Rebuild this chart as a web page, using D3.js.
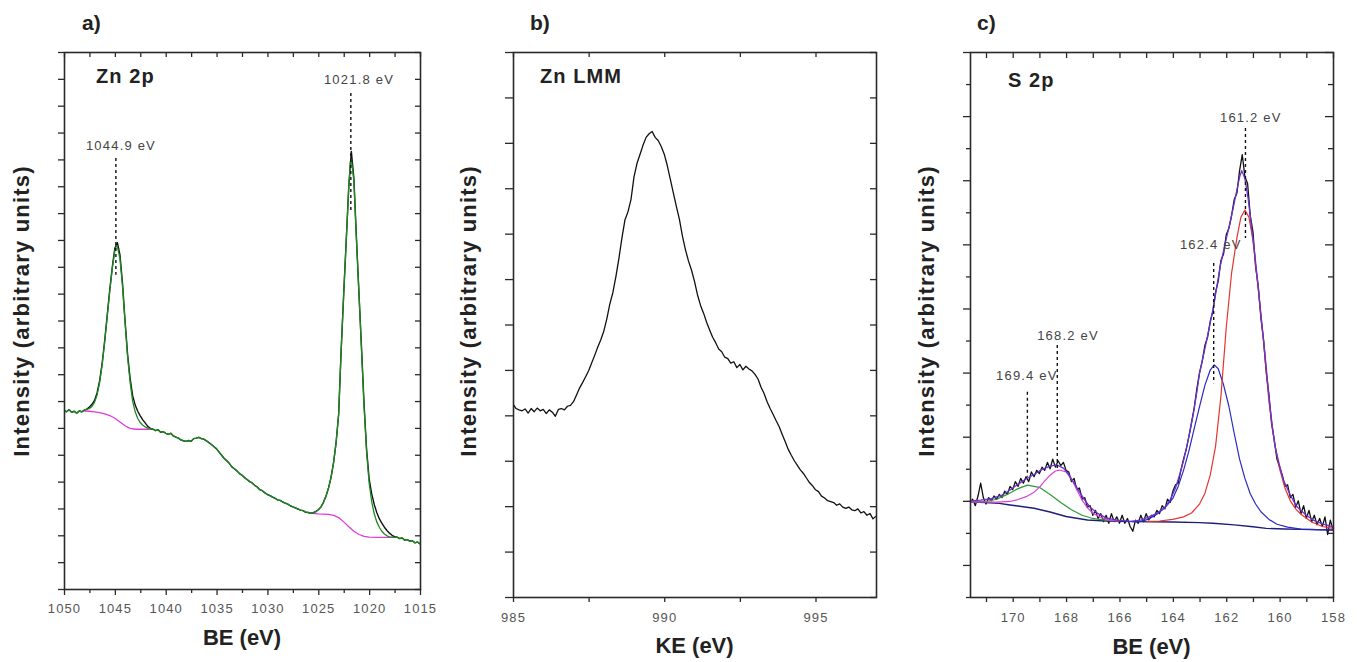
<!DOCTYPE html>
<html><head><meta charset="utf-8">
<script src="https://cdn.jsdelivr.net/npm/d3@7"></script>
<style>
body{margin:0;background:#fff;}
svg{display:block;}
text{font-family:"Liberation Sans", Arial, Helvetica, sans-serif;}
</style>
</head><body>
<svg id="chart" width="1357" height="662"></svg>
<script>
// ---------------- DATA ----------------
// Panel a) Zn 2p  (BE from 1050 down to 1015, step 0.25 eV)
const zn2pStart = 1050, zn2pStep = -0.25;
const zn2pIntensity = [
  6.65, 6.60, 6.68, 6.58,   6.62, 6.55, 6.63, 6.60,   6.66, 6.70, 6.78, 6.88,
  7.02, 7.30, 7.75, 8.40,   9.25, 10.20, 11.15, 12.00, 12.70, 12.90, 12.45, 11.40,
  10.00, 8.75, 7.85, 7.20,  6.85, 6.62, 6.45, 6.30,   6.18, 6.05, 5.98, 5.95,
  5.90, 5.93, 5.84, 5.86,   5.80, 5.76, 5.80, 5.70,   5.66, 5.62, 5.55, 5.52,
  5.50, 5.53, 5.50, 5.60,   5.62, 5.65, 5.60, 5.58,   5.52, 5.45, 5.38, 5.30,
  5.22, 5.10, 4.98, 4.86,   4.78, 4.68, 4.55, 4.48,   4.40, 4.30, 4.24, 4.15,
  4.08, 4.00, 3.95, 3.86,   3.80, 3.70, 3.66, 3.58,   3.52, 3.48, 3.42, 3.38,
  3.32, 3.30, 3.24, 3.20,   3.16, 3.10, 3.06, 3.02,   2.98, 2.94, 2.92, 2.86,
  2.85, 2.82, 2.84, 2.88,   2.95, 3.05, 3.22, 3.45,   3.75, 4.15, 4.70, 5.45,
  6.50, 8.90, 11.00, 13.00, 15.00, 16.30, 15.30, 13.10, 11.00, 9.00, 6.90, 5.20,
  4.10, 3.55, 3.15, 2.85,   2.62, 2.45, 2.30, 2.18,   2.08, 2.00, 1.95, 1.93,
  1.88, 1.90, 1.82, 1.84,   1.78, 1.80, 1.72, 1.75,   1.68
];
const zn2pFit1 = [[1047.5,6.72],[1047.25,6.8],[1047,6.95],[1046.75,7.22],[1046.5,7.68],[1046.25,8.35],[1046,9.2],[1045.75,10.15],[1045.5,11.1],[1045.25,11.95],[1045,12.6],[1044.85,12.78],[1044.75,12.75],[1044.5,12.3],[1044.25,11.3],[1044,9.95],[1043.75,8.65],[1043.5,7.7],[1043.25,7.0],[1043,6.6],[1042.75,6.35],[1042.5,6.2],[1042.25,6.1],[1042,6.03],[1041.75,5.99],[1041.5,5.97],[1041.25,5.95]];
const zn2pFit2 = [[1025.75,2.82],[1025.5,2.84],[1025.25,2.88],[1025,2.95],[1024.75,3.05],[1024.5,3.22],[1024.25,3.45],[1024,3.75],[1023.75,4.15],[1023.5,4.7],[1023.25,5.45],[1023,6.5],[1022.75,8.9],[1022.5,11.0],[1022.25,13.0],[1022,15.0],[1021.85,15.9],[1021.75,16.0],[1021.5,15.2],[1021.25,13.0],[1021,11.0],[1020.75,8.9],[1020.5,6.8],[1020.25,5.1],[1020,3.95],[1019.75,3.25],[1019.5,2.8],[1019.25,2.5],[1019,2.3],[1018.75,2.15],[1018.5,2.05],[1018.25,1.98],[1018,1.94],[1017.75,1.93],[1017.5,1.92]];
const zn2pBg1 = [[1048,6.63],[1047.5,6.62],[1047,6.6],[1046.5,6.57],[1046,6.52],[1045.5,6.46],[1045,6.36],[1044.5,6.22],[1044,6.08],[1043.5,5.98],[1043,5.95],[1042,5.95],[1041.3,5.95]];
const zn2pBg2 = [[1025.6,2.82],[1025,2.8],[1024.5,2.79],[1024,2.78],[1023.5,2.74],[1023,2.66],[1022.5,2.5],[1022,2.32],[1021.5,2.15],[1021,2.03],[1020.5,1.96],[1020,1.93],[1019,1.92],[1018,1.92],[1017.6,1.92]];
const zn2pAnnot = [
  {label:"1044.9 eV", e:1044.9, top:16.05, bottom:11.7, labelE:1044.4, labelU:16.5},
  {label:"1021.8 eV", e:1021.8, top:18.47, bottom:14.04, labelE:1021.0, labelU:18.96}
];
const aXLabels = [1050,1045,1040,1035,1030,1025,1020,1015];
const aXMinor = [1047.5,1042.5,1037.5,1032.5,1027.5,1022.5,1017.5];
const aYMajor = [0,2,4,6,8,10,12,14,16,18,20];
const aYMinor = [1,3,5,7,9,11,13,15,17,19];

// Panel b) Zn LMM  (KE from 985 to 997, step 0.1 eV)
const lmmStart = 985, lmmStep = 0.1;
const lmmIntensity = [
  4.25, 4.15, 4.12, 4.10, 4.14, 4.05, 4.15, 4.08, 4.16, 4.10,
  4.13, 4.04, 4.12, 4.07, 3.98, 4.13, 4.15, 4.12, 4.20, 4.22,
  4.30, 4.45, 4.60, 4.72, 4.85, 4.98, 5.15, 5.32, 5.50, 5.66,
  5.85, 6.12, 6.45, 6.70, 7.05, 7.45, 7.90, 8.30, 8.48, 8.75,
  9.25, 9.55, 9.75, 9.95, 10.12, 10.20, 10.25, 10.12, 10.05, 9.92,
  9.75, 9.50, 9.20, 8.90, 8.60, 8.32, 7.95, 7.65, 7.40, 7.20,
  6.95, 6.65, 6.42, 6.25, 6.05, 5.88, 5.72, 5.60, 5.46, 5.40,
  5.28, 5.25, 5.15, 5.18, 5.05, 5.12, 5.00, 5.08, 5.02, 4.98,
  4.90, 4.80, 4.62, 4.48, 4.30, 4.15, 4.02, 3.88, 3.75, 3.58,
  3.42, 3.25, 3.12, 3.00, 2.90, 2.80, 2.72, 2.62, 2.52, 2.45,
  2.36, 2.32, 2.22, 2.18, 2.12, 2.10, 2.08, 2.02, 2.05, 1.98,
  1.95, 1.98, 1.92, 1.90, 1.94, 1.85, 1.88, 1.80, 1.84, 1.72,
  1.78
];
const bXLabels = [985,990,995];
const bXMinor = [987.5,992.5];
const bYTicks = [0,1,2,3,4,5,6,7,8,9,10,11,12];

// Panel c) S 2p  (BE from 171.6 down to 158, step 0.1 eV)
const s2pStart = 171.6, s2pStep = -0.1;
const s2pIntensity = [
  2.95, 3.05, 2.85, 3.15, 3.55, 3.10, 2.90,
  3.10, 3.00, 3.15, 3.05, 3.20, 3.10, 3.30, 3.20, 3.45, 3.35,
  3.60, 3.45, 3.70, 3.55, 3.75, 3.60, 3.90, 3.75, 3.95, 3.85,
  4.05, 3.95, 4.20, 4.00, 4.30, 4.05, 4.25, 4.10, 4.20, 3.95,
  3.90, 3.60, 3.70, 3.35, 3.40, 3.05, 3.10, 2.80, 2.85, 2.55,
  2.70, 2.45, 2.60, 2.35, 2.55, 2.30, 2.60, 2.35, 2.50, 2.30,
  2.55, 2.30, 2.45, 2.20, 2.05, 2.40, 2.30, 2.55, 2.35, 2.60,
  2.40, 2.55, 2.50, 2.70, 2.60, 2.85, 2.75, 3.05, 2.95, 3.30,
  3.50, 3.55, 3.95, 4.30, 4.60, 5.00, 5.45, 5.90, 6.50, 7.00,
  7.35, 7.85, 8.10, 8.60, 8.90, 9.50, 9.85, 10.50, 10.70, 11.30,
  11.50, 11.90, 12.40, 12.60, 13.30, 13.80, 13.10, 12.90, 11.90, 11.40,
  10.30, 9.70, 8.70, 8.00, 7.00, 6.30, 5.40, 4.90, 4.30, 4.05,
  3.80, 3.45, 3.50, 3.10, 3.20, 2.80, 3.00, 2.60, 2.85, 2.45,
  2.70, 2.35, 2.55, 2.25, 2.45, 2.20, 2.50, 1.95, 2.40, 2.10
];
const s2pBackground = [[171.6,2.97],[170.5,2.92],[170.1,2.87],[169.2,2.77],[168.6,2.65],[168.0,2.51],[167.2,2.40],[166.5,2.37],[165.5,2.35],[164,2.34],[163,2.32],[162.5,2.30],[161.7,2.25],[161,2.19],[160.5,2.14],[159.8,2.12],[159.2,2.11],[158,2.09]];
const s2pSulfate2 = [[171.6,2.97],[171,2.98],[170.6,3.05],[170.2,3.2],[169.8,3.38],[169.45,3.49],[169.0,3.42],[168.6,3.2],[168.2,2.95],[167.8,2.72],[167.4,2.55],[167.0,2.45],[166.5,2.39],[166,2.37]];
const s2pSulfate1 = [[171.6,2.97],[170.6,2.96],[170.1,2.98],[169.8,3.04],[169.5,3.13],[169.2,3.27],[169.0,3.42],[168.8,3.62],[168.6,3.80],[168.4,3.93],[168.25,3.96],[168.0,3.90],[167.8,3.68],[167.6,3.35],[167.4,3.02],[167.2,2.78],[167.0,2.62],[166.7,2.48],[166.4,2.40],[166.0,2.37]];
const s2pSulfide2 = [[165.5,2.35],[165.2,2.36],[164.9,2.43],[164.6,2.58],[164.3,2.78],[164.0,3.08],[163.8,3.45],[163.6,3.95],[163.4,4.55],[163.2,5.25],[163.0,5.94],[162.8,6.6],[162.6,7.08],[162.45,7.24],[162.3,7.12],[162.1,6.62],[161.9,5.95],[161.7,5.1],[161.5,4.3],[161.3,3.7],[161.1,3.22],[160.9,2.9],[160.7,2.66],[160.4,2.42],[160.1,2.27],[159.7,2.18],[159.2,2.12],[158.6,2.10],[158,2.09]];
const s2pSulfide1 = [[165.0,2.35],[164.5,2.37],[164.0,2.42],[163.6,2.5],[163.3,2.62],[163.0,2.9],[162.8,3.23],[162.6,3.8],[162.4,4.7],[162.2,6.25],[162.0,8.4],[161.8,10.1],[161.6,11.2],[161.45,11.85],[161.3,12.07],[161.15,11.85],[161.0,11.15],[160.8,9.6],[160.6,7.95],[160.4,6.1],[160.2,4.85],[160.0,4.0],[159.8,3.4],[159.6,3.0],[159.4,2.75],[159.2,2.58],[158.8,2.34],[158.4,2.2],[158,2.14]];
const s2pEnvelope = [[171.6,3.0],[171.2,3.02],[170.8,3.07],[170.4,3.18],[170.1,3.34],[169.8,3.52],[169.5,3.68],[169.2,3.82],[168.9,3.98],[168.6,4.08],[168.35,4.12],[168.1,4.02],[167.9,3.82],[167.7,3.56],[167.5,3.28],[167.3,3.02],[167.1,2.8],[166.8,2.6],[166.5,2.47],[166.1,2.40],[165.6,2.36],[165.2,2.40],[164.9,2.5],[164.6,2.61],[164.3,2.8],[164.1,3.03],[163.9,3.4],[163.73,3.86],[163.6,4.25],[163.48,4.69],[163.35,5.2],[163.23,5.73],[163.1,6.4],[163.0,6.98],[162.85,7.55],[162.73,8.02],[162.6,8.55],[162.48,9.05],[162.35,9.7],[162.23,10.3],[162.1,10.8],[161.98,11.24],[161.85,11.7],[161.73,12.17],[161.6,12.7],[161.5,13.1],[161.42,13.3],[161.3,13.05],[161.17,12.38],[161.05,11.5],[160.92,10.61],[160.82,9.8],[160.73,9.05],[160.63,8.25],[160.54,7.5],[160.45,6.7],[160.36,5.94],[160.27,5.3],[160.17,4.69],[160.0,4.1],[159.86,3.65],[159.6,3.18],[159.36,2.82],[159.0,2.55],[158.74,2.40],[158.4,2.28],[158,2.19]];
const s2pAnnot = [
  {label:"161.2 eV", e:161.28, top:14.63, bottom:11.2, labelE:161.08, labelU:14.97},
  {label:"162.4 eV", e:162.47, top:10.42, bottom:6.67, labelE:162.58, labelU:10.98},
  {label:"168.2 eV", e:168.33, top:7.86, bottom:3.96, labelE:167.93, labelU:8.17},
  {label:"169.4 eV", e:169.45, top:6.4, bottom:3.75, labelE:169.47, labelU:6.92}
];
const cXLabels = [170,168,166,164,162,160,158];
const cXMinor = [171,169,167,165,163,161,159];
const cYMajor = [1,3,5,7,9,11,13,15,17];
const cYMinor = [0,2,4,6,8,10,12,14,16];

const panelLetters = ["a)", "b)", "c)"];
const panelTitles = ["Zn 2p", "Zn LMM", "S 2p"];
const xTitles = ["BE (eV)", "KE (eV)", "BE (eV)"];
const yTitle = "Intensity (arbitrary units)";

// ---------------- DRAWING ----------------
const svg = d3.select("#chart");
const defs = svg.append("defs");
const AX = "#2a2a2a";

function series(start, step, vals) {
  return vals.map((v, i) => [+(start + i * step).toFixed(3), v]);
}

function panel(p) {
  const x = d3.scaleLinear().domain(p.xDomain).range([p.left, p.right]);
  const y = d3.scaleLinear().domain(p.yDomain).range([p.bottom, p.top]);
  const g = svg.append("g");
  const cid = "clip-" + p.id;
  defs.append("clipPath").attr("id", cid).append("rect")
    .attr("x", p.left).attr("y", p.top).attr("width", p.right - p.left).attr("height", p.bottom - p.top);
  const plot = g.append("g").attr("clip-path", `url(#${cid})`);
  const clean = s => { s.select(".domain").remove(); s.selectAll("text").remove(); s.selectAll("line").attr("stroke", AX).attr("stroke-width", 1.3); };
  const T = p.ticks;
  g.append("g").attr("transform", `translate(0,${p.bottom})`).call(d3.axisBottom(x).tickValues(p.xMajor).tickSizeInner(T.b).tickSizeOuter(0)).call(clean);
  g.append("g").attr("transform", `translate(0,${p.bottom})`).call(d3.axisBottom(x).tickValues(p.xMinor).tickSizeInner(T.bm).tickSizeOuter(0)).call(clean);
  g.append("g").attr("transform", `translate(0,${p.top})`).call(d3.axisTop(x).tickValues(p.xMajor.concat(p.xMinor)).tickSizeInner(-T.t).tickSizeOuter(0)).call(clean);
  g.append("g").attr("transform", `translate(${p.left},0)`).call(d3.axisLeft(y).tickValues(p.yMajor).tickSizeInner(T.l).tickSizeOuter(0)).call(clean);
  g.append("g").attr("transform", `translate(${p.left},0)`).call(d3.axisLeft(y).tickValues(p.yMinor).tickSizeInner(T.lm).tickSizeOuter(0)).call(clean);
  g.append("g").attr("transform", `translate(${p.right},0)`).call(d3.axisRight(y).tickValues(p.yMajor).tickSizeInner(-T.r).tickSizeOuter(0)).call(clean);
  g.append("g").attr("transform", `translate(${p.right},0)`).call(d3.axisRight(y).tickValues(p.yMinor).tickSizeInner(-T.rm).tickSizeOuter(0)).call(clean);
  g.append("rect").attr("x", p.left + 0.5).attr("y", p.top + 0.5).attr("width", p.right - p.left).attr("height", p.bottom - p.top)
    .attr("fill", "none").attr("stroke", AX).attr("stroke-width", 1.6);
  g.append("g").selectAll("text").data(p.xLabels).join("text")
    .attr("x", d => x(d) + 0.5).attr("y", p.bottom + p.labelDy)
    .attr("text-anchor", "middle").attr("font-size", 13).attr("letter-spacing", 1.1).attr("fill", "#555")
    .text(d => d);
  // titles
  g.append("text").attr("x", p.letterX).attr("y", 30).attr("font-size", 21).attr("font-weight", "bold").attr("fill", "#222").text(p.letter);
  g.append("text").attr("x", p.titleX).attr("y", p.titleY).attr("font-size", 20).attr("font-weight", "bold").attr("letter-spacing", 1.1).attr("fill", "#222").text(p.title);
  g.append("text").attr("x", (p.left + p.right) / 2 + p.xtDx).attr("y", p.xtY).attr("text-anchor", "middle")
    .attr("font-size", 22).attr("font-weight", "bold").attr("fill", "#222").text(p.xTitle);
  g.append("text").attr("transform", `translate(${p.ytX},311) rotate(-90)`).attr("text-anchor", "middle")
    .attr("font-size", 22).attr("font-weight", "bold").attr("letter-spacing", 1.2).attr("fill", "#222").text(yTitle);
  return {x, y, g, plot};
}

function drawLine(P, pts, color, w) {
  const line = d3.line().x(d => P.x(d[0])).y(d => P.y(d[1]));
  P.plot.append("path").datum(pts).attr("d", line).attr("fill", "none").attr("stroke", color)
    .attr("stroke-width", w).attr("stroke-linejoin", "round");
}
function drawAnnot(P, list) {
  list.forEach(a => {
    P.g.append("line").attr("x1", P.x(a.e)).attr("x2", P.x(a.e)).attr("y1", P.y(a.top)).attr("y2", P.y(a.bottom))
      .attr("stroke", "#111").attr("stroke-width", 1.4).attr("stroke-dasharray", "3,3");
    P.g.append("text").attr("x", P.x(a.labelE)).attr("y", P.y(a.labelU) + 4.5).attr("text-anchor", "middle")
      .attr("font-size", 13).attr("letter-spacing", 1.2).attr("fill", "#444").text(a.label);
  });
}

// ---- panel a
const A = panel({id:"a", xDomain:[1050,1015], yDomain:[0,20], left:64, right:420, top:52, bottom:589,
  xMajor:aXLabels, xMinor:aXMinor, yMajor:aYMajor, yMinor:aYMinor, xLabels:aXLabels, labelDy:24,
  ticks:{b:6, bm:4, t:5, l:6, lm:6, r:5, rm:5},
  letter:panelLetters[0], letterX:82, title:panelTitles[0], titleX:96, titleY:83,
  xTitle:xTitles[0], xtDx:0, xtY:645, ytX:29});
const zn2pData = series(zn2pStart, zn2pStep, zn2pIntensity);
const fits = [zn2pFit1, zn2pFit2];
const inFit = e => fits.some(f => e <= f[0][0] && e >= f[f.length - 1][0]);
const zn2pGreen = zn2pData.filter(d => !inFit(d[0])).concat(zn2pFit1, zn2pFit2).sort((a, b) => b[0] - a[0]);
drawLine(A, zn2pBg1, "#e03ad8", 1.3);
drawLine(A, zn2pBg2, "#e03ad8", 1.3);
drawLine(A, zn2pData, "#111", 1.4);
drawLine(A, zn2pGreen, "#1c8a22", 1.3);
drawAnnot(A, zn2pAnnot);

// ---- panel b
const B = panel({id:"b", xDomain:[985,997], yDomain:[0,12], left:513, right:876, top:52, bottom:597,
  xMajor:bXLabels, xMinor:bXMinor, yMajor:bYTicks, yMinor:[], xLabels:bXLabels, labelDy:25,
  ticks:{b:5, bm:5, t:5, l:8, lm:8, r:6, rm:6},
  letter:panelLetters[1], letterX:530, title:panelTitles[1], titleX:540, titleY:83,
  xTitle:xTitles[1], xtDx:0, xtY:653, ytX:476});
drawLine(B, series(lmmStart, lmmStep, lmmIntensity), "#111", 1.3);

// ---- panel c
const C = panel({id:"c", xDomain:[171.6,158], yDomain:[0,17], left:970, right:1333, top:52, bottom:597,
  xMajor:cXLabels, xMinor:cXMinor, yMajor:cYMajor, yMinor:cYMinor, xLabels:cXLabels, labelDy:25,
  ticks:{b:5, bm:5, t:6, l:7, lm:4, r:8, rm:5},
  letter:panelLetters[2], letterX:977, title:panelTitles[2], titleX:1008, titleY:87,
  xTitle:xTitles[2], xtDx:0, xtY:654, ytX:934});
drawLine(C, series(s2pStart, s2pStep, s2pIntensity), "#111", 1.3);
drawLine(C, s2pBackground, "#1e1e7a", 1.4);
drawLine(C, s2pSulfate2, "#2f9a35", 1.2);
drawLine(C, s2pSulfate1, "#e040d8", 1.2);
drawLine(C, s2pSulfide2, "#2a2ac0", 1.2);
drawLine(C, s2pSulfide1, "#e8342e", 1.2);
drawLine(C, s2pEnvelope, "#6a33d0", 1.3);
drawAnnot(C, s2pAnnot);
</script>
</body></html>
